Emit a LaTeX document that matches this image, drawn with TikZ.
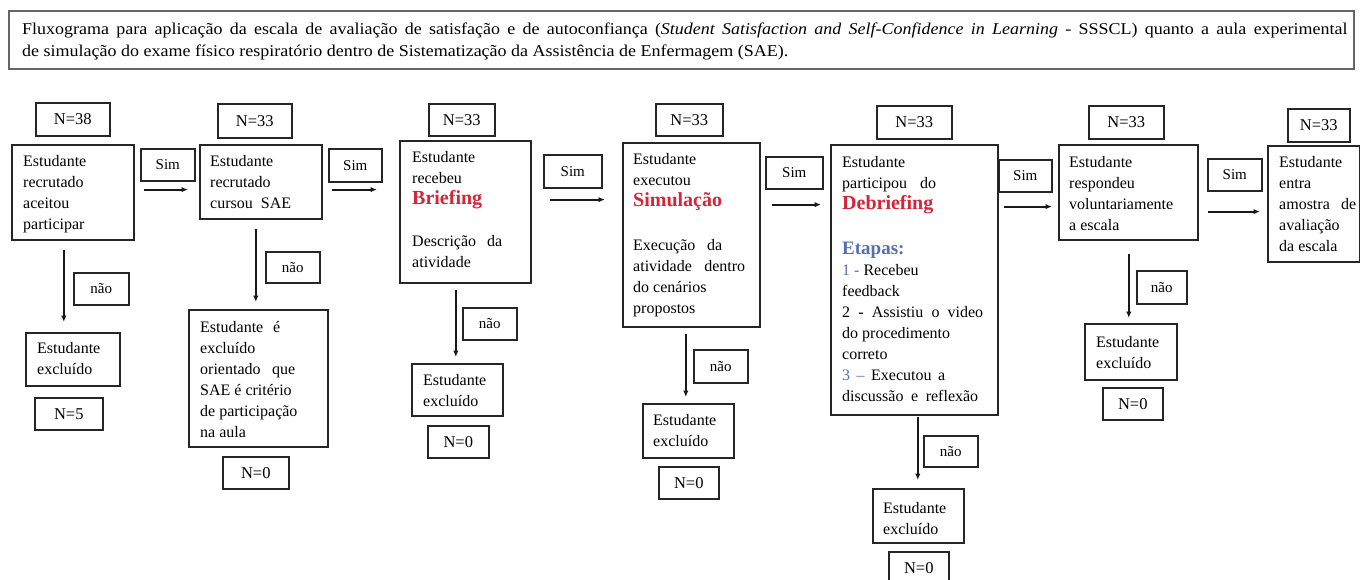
\documentclass[tikz,border=0pt]{standalone}
\usepackage{fontspec}
\setmainfont{Liberation Serif}
\usetikzlibrary{arrows.meta}
\definecolor{redw}{RGB}{214,36,56}
\definecolor{bluew}{RGB}{84,112,176}
\newcommand\jline[2]{\makebox[#1pt][s]{#2}}
\newcommand\bigred[1]{{\fontsize{20}{21}\selectfont\bfseries\color{redw}#1}}
\newcommand\bx[7][]{\node[frame,#1,minimum width={#5-#3},minimum height={#6-#4}] (#2) at (#3,#4) {#7};}
\newcommand\btext[4]{\node[btxt] (t#1) at ([shift={(#2pt,-#3pt)}]#1.north west) {#4};}
\newcommand\varr[5]{\draw[arr, shorten <=#4pt, shorten >=#5pt] ([xshift=#3pt]#1.south) -- ([xshift=#3pt]#1.south |- #2.north);}
\newcommand\harr[6]{\path ([yshift=-#4pt]#3.south) coordinate (h#3);
  \draw[arr, shorten <=#5pt, shorten >=#6pt] (h#3 -| #1.east) -- (h#3 -| #2.west);}
\tikzset{
  frame/.style={draw=black!85, line width=1.6pt, anchor=north west, inner sep=0pt},
  hframe/.style={draw=black!60, line width=2.2pt},
  nlab/.style={font=\fontsize{16.5}{18}\selectfont},
  slab/.style={font=\fontsize{15}{18}\selectfont},
  btxt/.style={anchor=north west, inner sep=0pt, align=left, font=\fontsize{16}{21}\selectfont},
  htxt/.style={anchor=north west, inner sep=0pt, align=left, font=\fontsize{16.5}{22}\selectfont},
  arr/.style={line width=1.8pt, draw=black!90, -{Latex[length=6.5pt,width=5.5pt]}},
}
\begin{document}
\begin{tikzpicture}[x=1pt,y=-1pt]
\useasboundingbox (0,0) rectangle (1360,579);
% header
\bx[hframe]{hdr}{8}{10}{1353}{68}{}
\node[htxt] (hdrtext) at ([shift={(14pt,-13pt)}]hdr.north west) {\scalebox{1.09}[1]{\makebox[1216pt][s]{Fluxograma para aplicação da escala de avaliação de satisfação e de autoconfiança (\textit{Student Satisfaction and Self-Confidence in Learning} - SSSCL) quanto a aula experimental}}\\\scalebox{1.09}[1]{de simulação do exame físico respiratório dentro de Sistematização da Assistência de Enfermagem (SAE).}};
% column 1
\bx[nlab]{n1}{35}{102}{109}{135}{N=38}
\bx{b1}{11}{144}{133}{239}{}
\bx[slab]{s1}{140}{148}{194}{180}{Sim}
\bx[slab]{no1}{73}{272}{128}{304}{não}
\bx{e1}{25}{332}{119}{385}{}
\bx[nlab]{m1}{34}{397}{102}{429}{N=5}
% column 2
\bx[nlab]{n2}{217}{103}{291}{137}{N=33}
\bx{b2}{199}{144}{321}{218}{}
\bx[slab]{s2}{328}{148}{381}{181}{Sim}
\bx[slab]{no2}{265}{251}{319}{282}{não}
\bx{e2}{188}{309}{327}{446}{}
\bx[nlab]{m2}{222}{456}{288}{488}{N=0}
% column 3
\bx[nlab]{n3}{428}{103}{494}{135}{N=33}
\bx{b3}{399}{140}{530}{282}{}
\bx[slab]{s3}{543}{154}{601}{187}{Sim}
\bx[slab]{no3}{462}{307}{516}{339}{não}
\bx{e3}{411}{363}{502}{415}{}
\bx[nlab]{m3}{427}{425}{488}{457}{N=0}
% column 4
\bx[nlab]{n4}{655}{103}{722}{135}{N=33}
\bx{b4}{622}{142}{759}{326}{}
\bx[slab]{s4}{765}{156}{822}{188}{Sim}
\bx[slab]{no4}{693}{349}{747}{382}{não}
\bx{e4}{642}{403}{733}{457}{}
\bx[nlab]{m4}{658}{466}{718}{498}{N=0}
% column 5
\bx[nlab]{n5}{876}{105}{951}{138}{N=33}
\bx{b5}{830}{144}{997}{414}{}
\bx[slab]{s5}{998}{159}{1051}{191}{Sim}
\bx[slab]{no5}{923}{435}{977}{466}{não}
\bx{e5}{872}{488}{963}{542}{}
\bx[nlab]{m5}{888}{551}{948}{584}{N=0}
% column 6
\bx[nlab]{n6}{1088}{105}{1163}{138}{N=33}
\bx{b6}{1058}{144}{1197}{239}{}
\bx[slab]{s6}{1207}{158}{1261}{190}{Sim}
\bx[slab]{no6}{1136}{270}{1186}{303}{não}
\bx{e6}{1084}{323}{1176}{379}{}
\bx[nlab]{m6}{1102}{387}{1162}{419}{N=0}
% column 7
\bx[nlab]{n7}{1287}{108}{1349}{141}{N=33}
\bx{b7}{1267}{145}{1359}{261}{}
% texts
\btext{b1}{12}{11}{Estudante\\recrutado\\aceitou\\participar}
\btext{b2}{11}{11}{Estudante\\recrutado\\cursou\ \ SAE}
\btext{b3}{13}{11}{Estudante\\recebeu\\\bigred{Briefing}\\[21pt]\jline{90}{Descrição da}\\atividade}
\btext{b4}{11}{11}{Estudante\\executou\\\bigred{Simulação}\\[23pt]\jline{89}{Execução da}\\\jline{112}{atividade dentro}\\do cenários\\propostos}
\btext{b5}{12}{12}{Estudante\\\jline{94}{participou do}\\\bigred{Debriefing}\\[24pt]{\fontsize{19}{21}\selectfont\bfseries\color{bluew}Etapas:}\\{\color{bluew}1 -} Recebeu\\feedback\\\jline{141}{2 - Assistiu o video}\\do procedimento\\correto\\\jline{103}{{\color{bluew}3 –} Executou a}\\\jline{136}{discussão e reflexão}}
\btext{b6}{11}{12}{Estudante\\respondeu\\voluntariamente\\a escala}
\btext{b7}{12}{11}{Estudante\\entra\\\jline{77}{amostra de}\\avaliação\\da escala}
\btext{e1}{12}{10}{Estudante\\excluído}
\btext{e2}{12}{12}{\jline{80}{Estudante é}\\excluído\\\jline{95}{orientado que}\\SAE é critério\\de participação\\na aula}
\btext{e3}{12}{11}{Estudante\\excluído}
\btext{e4}{11}{11}{Estudante\\excluído}
\btext{e5}{11}{14}{Estudante\\excluído}
\btext{e6}{12}{13}{Estudante\\excluído}
% horizontal arrows
\harr{b1}{b2}{s1}{8}{9}{11}
\harr{b2}{b3}{s2}{7}{9}{22}
\harr{b3}{b4}{s3}{11}{18}{17}
\harr{b4}{b5}{s4}{15}{11}{9}
\harr{b5}{b6}{s5}{14}{5}{6}
\harr{b6}{b7}{s6}{20}{9}{7}
% vertical arrows
\varr{b1}{e1}{-9}{9}{10}
\varr{b2}{e2}{-5}{9}{7}
\varr{b3}{e3}{-9.5}{6}{6}
\varr{b4}{e4}{-5.5}{6}{6}
\varr{b5}{e5}{3.5}{1}{8}
\varr{b6}{e6}{0.5}{13}{5}
\end{tikzpicture}
\end{document}
